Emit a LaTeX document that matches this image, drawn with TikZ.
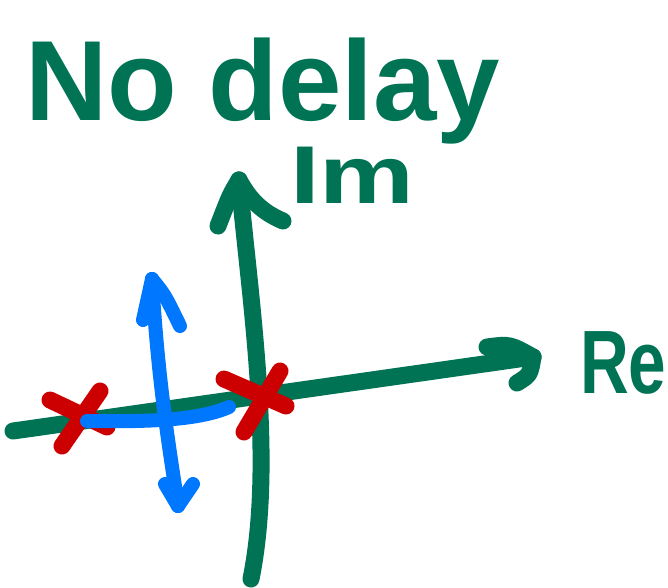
\documentclass[tikz,border=0pt]{standalone}
\usepackage{fontspec}
\setmainfont{Liberation Sans}
\definecolor{ink}{RGB}{0,115,85}
\definecolor{pole}{RGB}{204,0,0}
\definecolor{blu}{RGB}{0,119,255}
\begin{document}
\begin{tikzpicture}[x=1pt,y=-1pt,
  gstroke/.style={draw=ink,line width=17pt,line cap=round,line join=round},
  rstroke/.style={draw=pole,line width=17pt,line cap=round,line join=round},
  bstroke/.style={draw=blu,line width=14pt,line cap=round,line join=round},
  label/.style={text=ink,inner sep=0pt,anchor=base west}]
\useasboundingbox (0,0) rectangle (668,587);
% texts
\node[label] (title) at (25,120) {\fontsize{114}{114}\selectfont\bfseries No delay};
\node[label] (im) at (290,203) {\fontsize{82}{82}\selectfont\bfseries\scalebox{1.3}[1]{Im}};
\node[label] (re) at (580,393) {\fontsize{90}{90}\selectfont\bfseries\scalebox{0.75}[1]{Re}};
% axis coordinates
\coordinate (vb) at (251,579);
\coordinate (vt) at (239,180);
\coordinate (vl) at (218,226);
\coordinate (vr) at (283,221);
\coordinate (hl) at (13,431);
\coordinate (hr) at (533,357);
\coordinate (hu) at (487,347);
\coordinate (hd) at (517,383);
% green axes
\draw[gstroke] (hl) -- (hr);
\draw[gstroke] (hu) .. controls (510,344) .. (hr);
\draw[gstroke] (hr) .. controls (530,375) .. (hd);
\draw[gstroke] (vb) .. controls (275,460) and (250,300) .. (vt);
\draw[gstroke] (vt) .. controls (230,195) .. (vl);
\draw[gstroke] (vt) .. controls (250,200) and (262,212) .. (vr);
% red poles
\coordinate (p1a) at (50,400);
\coordinate (p1b) at (107,427);
\coordinate (p1c) at (100,391);
\coordinate (p1d) at (62,446);
\coordinate (p2a) at (224,379);
\coordinate (p2b) at (286,406);
\coordinate (p2c) at (280,371);
\coordinate (p2d) at (244,432);
\draw[rstroke] (p1a) -- (p1b);
\draw[rstroke] (p1c) -- (p1d);
\draw[rstroke] (p2a) -- (p2b);
\draw[rstroke] (p2c) -- (p2d);
% blue arrows
\coordinate (bt) at (152,279);
\coordinate (bb) at (178,506);
\coordinate (btl) at (143,320);
\coordinate (btr) at (180,326);
\coordinate (bbl) at (165,484);
\coordinate (bbr) at (193,484);
\coordinate (bhl) at (87,421);
\coordinate (bhr) at (229,407);
\draw[bstroke] (bhl) .. controls (150,422) and (200,420) .. (bhr);
\draw[bstroke] (bt) .. controls (158,380) and (168,440) .. (bb);
\draw[bstroke] (bt) -- (btl);
\draw[bstroke] (bt) .. controls (165,295) .. (btr);
\draw[bstroke] (bb) -- (bbl);
\draw[bstroke] (bb) -- (bbr);
\end{tikzpicture}
\end{document}
